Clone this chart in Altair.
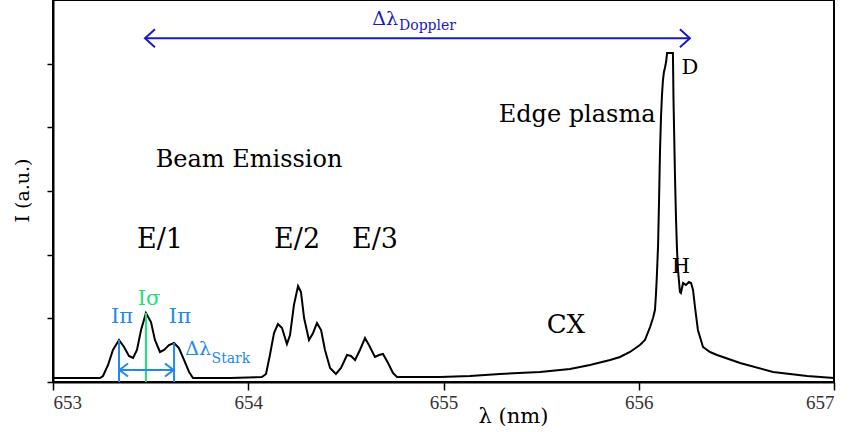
import altair as alt
import pandas as pd

# ---- spectrum (wavelength in nm, intensity in a.u.) ----
wavelength = [653.000, 653.241, 653.256, 653.282, 653.307, 653.338, 653.364, 653.389, 653.410, 653.430,
              653.451, 653.476, 653.502, 653.522, 653.548, 653.569, 653.594, 653.620, 653.645, 653.671,
              653.697, 653.717, 653.907, 654.070, 654.091, 654.111, 654.132, 654.152, 654.173, 654.198,
              654.214, 654.234, 654.255, 654.270, 654.286, 654.311, 654.332, 654.352, 654.373, 654.393,
              654.419, 654.449, 654.475, 654.506, 654.526, 654.547, 654.572, 654.598, 654.618, 654.649,
              654.670, 654.690, 654.716, 654.741, 654.762, 654.982, 655.136, 655.289, 655.494, 655.648,
              655.750, 655.853, 655.904, 655.955, 656.006, 656.032, 656.058, 656.073, 656.083, 656.088,
              656.093, 656.099, 656.104, 656.109, 656.114, 656.119, 656.124, 656.129, 656.134, 656.140,
              656.145, 656.175, 656.178, 656.181, 656.186, 656.191, 656.196, 656.201, 656.211, 656.216,
              656.227, 656.242, 656.257, 656.268, 656.278, 656.288, 656.303, 656.329, 656.365, 656.401,
              656.519, 656.688, 656.862, 657.000]
intensity = [0.063, 0.063, 0.094, 0.267, 0.503, 0.660, 0.550, 0.408, 0.377, 0.503,
             0.817, 1.084, 0.942, 0.660, 0.471, 0.503, 0.581, 0.613, 0.534, 0.346,
             0.157, 0.063, 0.063, 0.079, 0.126, 0.424, 0.770, 0.911, 0.848, 0.597,
             0.738, 1.209, 1.508, 1.414, 1.005, 0.660, 0.770, 0.927, 0.817, 0.503,
             0.220, 0.126, 0.220, 0.424, 0.408, 0.346, 0.503, 0.691, 0.581, 0.393,
             0.424, 0.440, 0.298, 0.141, 0.079, 0.079, 0.094, 0.126, 0.157, 0.204,
             0.267, 0.346, 0.393, 0.471, 0.581, 0.660, 0.864, 1.005, 1.131, 1.366,
             1.681, 2.152, 2.858, 3.644, 4.162, 4.508, 4.743, 4.869, 4.932, 5.026,
             5.167, 5.167, 4.429, 3.958, 3.173, 2.544, 2.073, 1.759, 1.414, 1.398,
             1.555, 1.523, 1.571, 1.555, 1.445, 1.178, 0.817, 0.550, 0.471, 0.424,
             0.298, 0.157, 0.094, 0.063]

x_ticks = [653, 654, 655, 656, 657]
y_ticks = [0, 1, 2, 3, 4, 5]

# Stark components (pi, sigma, pi)
stark_x = [653.338, 653.476, 653.620]
stark_peak = [0.660, 1.084, 0.613]
stark_arrow_x = [653.340, 653.618]
stark_arrow_y = 0.188

# Doppler arrow
doppler_x = [653.471, 656.262]
doppler_y = 5.40

# ---- annotation texts (positions in data units) ----
black_labels = ["E/1", "E/2", "E/3"]
black_labels_x = [653.548, 654.250, 654.649]
black_labels_y = [2.105, 2.105, 2.105]

mid_labels = ["Beam Emission"]
mid_labels_x = [654.004]
mid_labels_y = [3.377]

big_labels = ["Edge plasma"]
big_labels_x = [655.684]
big_labels_y = [4.084]

cx_labels = ["CX"]
cx_labels_x = [655.627]
cx_labels_y = [0.770]

peak_labels = ["D", "H"]
peak_labels_x = [656.262, 656.216]
peak_labels_y = [4.837, 1.712]

pi_labels = ["Iπ", "Iπ"]
pi_labels_x = [653.353, 653.650]
pi_labels_y = [0.927, 0.927]

sigma_labels = ["Iσ"]
sigma_labels_x = [653.492]
sigma_labels_y = [1.209]

SERIF = "DejaVu Serif"
BLUE = "#2288ec"
GREEN = "#1ee07a"
DBLUE = "#1a1ac4"

spec = pd.DataFrame({"x": wavelength, "y": intensity})

xscale = alt.Scale(domain=[653, 657], nice=False, zero=False)
yscale = alt.Scale(domain=[0, 6], nice=False)

X = lambda f="x": alt.X(f"{f}:Q", scale=xscale)
Y = lambda f="y": alt.Y(f"{f}:Q", scale=yscale)

line = alt.Chart(spec).mark_line(color="black", strokeWidth=2).encode(
    x=alt.X("x:Q", scale=xscale,
            axis=alt.Axis(values=x_ticks, format="d", title="λ (nm)", grid=False,
                          tickSize=8, tickWidth=1.5, tickColor="black",
                          domainColor="black", domainWidth=2,
                          labelFont="Liberation Serif", labelFontSize=19, labelColor="#333",
                          labelPadding=3,
                          titleFont=SERIF, titleFontSize=21, titleFontWeight="normal",
                          titleColor="black", titleX=460, titleY=40,
                          titleBaseline="alphabetic", titleAlign="center")),
    y=alt.Y("y:Q", scale=yscale,
            axis=alt.Axis(values=y_ticks, labels=False, title="I (a.u.)", grid=False,
                          tickSize=6, tickWidth=1.5, tickColor="black",
                          domainColor="black", domainWidth=2,
                          titleFont=SERIF, titleFontSize=19, titleFontWeight="normal",
                          titleColor="black", titleX=-31, titleY=190, titleAngle=-90,
                          titleAlign="center", titleBaseline="middle")),
    order=alt.Order("x:Q"),
)

stark_df = pd.DataFrame({"x": stark_x, "y0": [0, 0, 0], "y": stark_peak,
                         "c": ["pi", "sigma", "pi"]})
stark_rules = alt.Chart(stark_df).mark_rule(strokeWidth=2).encode(
    x=X(), y=alt.Y("y0:Q", scale=yscale), y2="y:Q",
    color=alt.Color("c:N", scale=alt.Scale(domain=["pi", "sigma"], range=[BLUE, GREEN]), legend=None),
)

stark_h = alt.Chart(pd.DataFrame({"x": [stark_arrow_x[0]], "x2": [stark_arrow_x[1]],
                                  "y": [stark_arrow_y]})).mark_rule(color=BLUE, strokeWidth=2).encode(
    x=X(), x2="x2:Q", y=Y())

stark_left = alt.Chart(pd.DataFrame({"x": [stark_arrow_x[0]], "y": [stark_arrow_y]})).mark_point(
    shape="M 1 -0.75 L 0 0 L 1 0.75", size=300, filled=False, color=BLUE, strokeWidth=2, opacity=1
).encode(x=X(), y=Y())
stark_right = alt.Chart(pd.DataFrame({"x": [stark_arrow_x[1]], "y": [stark_arrow_y]})).mark_point(
    shape="M -1 -0.75 L 0 0 L -1 0.75", size=300, filled=False, color=BLUE, strokeWidth=2, opacity=1
).encode(x=X(), y=Y())

dop_rule = alt.Chart(pd.DataFrame({"x": [doppler_x[0]], "x2": [doppler_x[1]],
                                   "y": [doppler_y]})).mark_rule(color=DBLUE, strokeWidth=2).encode(
    x=X(), x2="x2:Q", y=Y())
dop_left = alt.Chart(pd.DataFrame({"x": [doppler_x[0]], "y": [doppler_y]})).mark_point(
    shape="M 1 -0.9 L 0 0 L 1 0.9", size=400, filled=False, color=DBLUE, strokeWidth=2, opacity=1
).encode(x=X(), y=Y())
dop_right = alt.Chart(pd.DataFrame({"x": [doppler_x[1]], "y": [doppler_y]})).mark_point(
    shape="M -1 -0.9 L 0 0 L -1 0.9", size=400, filled=False, color=DBLUE, strokeWidth=2, opacity=1
).encode(x=X(), y=Y())


def texts(labels, xs, ys, size, color, align="center", font=SERIF):
    df = pd.DataFrame({"t": labels, "x": xs, "y": ys})
    return alt.Chart(df).mark_text(font=font, fontSize=size, color=color, align=align,
                                   baseline="alphabetic").encode(x=X(), y=Y(), text="t:N")


layers = [
    line, stark_rules, stark_h, stark_left, stark_right, dop_rule, dop_left, dop_right,
    texts(black_labels, black_labels_x, black_labels_y, 27, "black"),
    texts(mid_labels, mid_labels_x, mid_labels_y, 24, "black"),
    texts(big_labels, big_labels_x, big_labels_y, 24, "black"),
    texts(cx_labels, cx_labels_x, cx_labels_y, 26, "black"),
    texts(peak_labels, peak_labels_x, peak_labels_y, 21, "black"),
    texts(pi_labels, pi_labels_x, pi_labels_y, 21, BLUE),
    texts(sigma_labels, sigma_labels_x, sigma_labels_y, 21, GREEN),
    texts(["Δλ"], [653.809], [0.424], 19, BLUE, align="right"),
    texts(["Stark"], [653.812], [0.298], 14, BLUE, align="left"),
    texts(["Δλ"], [654.767], [5.607], 19, DBLUE, align="right"),
    texts(["Doppler"], [654.772], [5.529], 14, DBLUE, align="left"),
]

chart = alt.layer(*layers).properties(
    width=781, height=382,
    padding={"left": 53, "top": 0, "right": 16, "bottom": 50},
    autosize=alt.AutoSizeParams(type="none"),
    background="white",
).configure_view(stroke="black", strokeWidth=2)

chart.save("out.html", embed_options={"renderer": "svg", "actions": False})
